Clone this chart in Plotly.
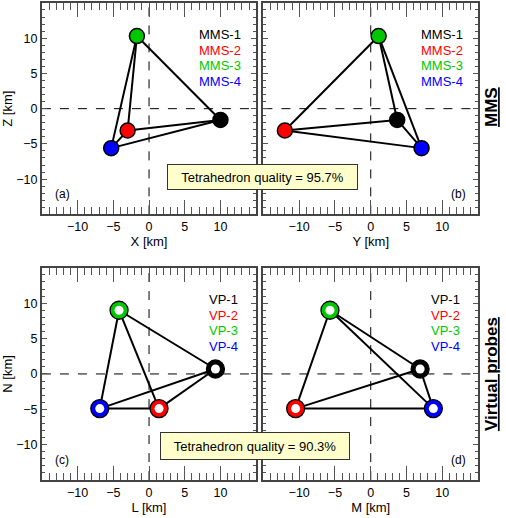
import plotly.graph_objects as go

# probe names and colours
mms_names = ["MMS-1", "MMS-2", "MMS-3", "MMS-4"]
vp_names = ["VP-1", "VP-2", "VP-3", "VP-4"]
colors = ["#000000", "#ff0000", "#00c800", "#0000ff"]

# MMS positions relative to the barycentre [km]
mms_x = [10.0, -3.0, -1.7, -5.3]
mms_y = [3.7, -12.0, 1.1, 7.1]
mms_z = [-1.6, -3.1, 10.3, -5.6]

# virtual probe positions in LMN [km]
vp_l = [9.3, 1.4, -4.2, -6.9]
vp_m = [6.9, -10.5, -5.7, 8.75]
vp_n = [0.7, -4.9, 9.0, -4.9]

quality_mms = 95.7
quality_vp = 90.3

axis_span = [-15, 15]
FONT = "Liberation Sans, Arial, sans-serif"

# h, v, names, virtual?, x title, y title, label
panels = [
    (mms_x, mms_z, mms_names, False, "X [km]", "Z [km]", "(a)"),
    (mms_y, mms_z, mms_names, False, "Y [km]", None, "(b)"),
    (vp_l, vp_n, vp_names, True, "L [km]", "N [km]", "(c)"),
    (vp_m, vp_n, vp_names, True, "M [km]", None, "(d)"),
]

# paper domains of the four panels
x_dom = [[0, 0.491], [0.508, 1], [0, 0.491], [0.508, 1]]
y_dom = [[0.557, 1], [0.557, 1], [0, 0.4447], [0, 0.4447]]

pairs = [(0, 1), (0, 2), (0, 3), (1, 2), (1, 3), (2, 3)]

fig = go.Figure()
annotations = []
axes = {}

for k, (h, v, names, virtual, xt, yt, lab) in enumerate(panels):
    sfx = "" if k == 0 else str(k + 1)
    xa, ya = "x" + sfx, "y" + sfx

    # dashed zero lines
    fig.add_trace(go.Scatter(x=[0, 0], y=axis_span, mode="lines", xaxis=xa, yaxis=ya,
                             line=dict(color="black", width=1, dash="dash"),
                             hoverinfo="skip"))
    fig.add_trace(go.Scatter(x=axis_span, y=[0, 0], mode="lines", xaxis=xa, yaxis=ya,
                             line=dict(color="black", width=1, dash="dash"),
                             hoverinfo="skip"))

    # tetrahedron edges
    ex, ey = [], []
    for i, j in pairs:
        ex += [h[i], h[j], None]
        ey += [v[i], v[j], None]
    fig.add_trace(go.Scatter(x=ex, y=ey, mode="lines", xaxis=xa, yaxis=ya,
                             line=dict(color="black", width=2), hoverinfo="skip"))

    if virtual:
        fig.add_trace(go.Scatter(x=h, y=v, mode="markers", xaxis=xa, yaxis=ya,
                                 marker=dict(size=18, color=colors,
                                             line=dict(color="black", width=1.3))))
        fig.add_trace(go.Scatter(x=h, y=v, mode="markers", xaxis=xa, yaxis=ya,
                                 marker=dict(size=9, color="white")))
    else:
        fig.add_trace(go.Scatter(x=h, y=v, mode="markers", xaxis=xa, yaxis=ya,
                                 marker=dict(size=15, color=colors,
                                             line=dict(color="black", width=1.5))))

    # text legend
    leg_y = [10.5, 8.3, 6.1, 3.9]
    leg_x = 12.7 if virtual else 13.2
    for i, nm in enumerate(names):
        annotations.append(dict(x=leg_x, y=leg_y[i], xref=xa, yref=ya, text=nm,
                                showarrow=False, xanchor="right", yanchor="middle",
                                font=dict(color=colors[i], size=13)))

    # panel letter
    if k % 2 == 0:
        annotations.append(dict(x=-13.5, y=-12.1, xref=xa, yref=ya, text=lab,
                                showarrow=False, xanchor="left", yanchor="middle",
                                font=dict(size=12)))
    else:
        annotations.append(dict(x=13.6, y=-12.1, xref=xa, yref=ya, text=lab,
                                showarrow=False, xanchor="right", yanchor="middle",
                                font=dict(size=12)))

    axes["xaxis" + sfx] = dict(domain=x_dom[k], anchor=ya,
                               title=dict(text=xt, font=dict(size=13), standoff=0))
    yax = dict(domain=y_dom[k], anchor=xa)
    if yt:
        yax["title"] = dict(text=yt, font=dict(size=13), standoff=4)
    else:
        yax["showticklabels"] = False
    axes["yaxis" + sfx] = yax

# tetrahedron quality boxes
annotations.append(dict(x=0.5057, y=0.6357, xref="paper", yref="paper",
                        xanchor="center", yanchor="middle",
                        text="Tetrahedron quality = %.1f%%" % quality_mms,
                        showarrow=False, width=187, height=22, bgcolor="#ffffcc",
                        bordercolor="#333", borderwidth=1, font=dict(size=13)))
annotations.append(dict(x=0.4885, y=0.071, xref="paper", yref="paper",
                        xanchor="center", yanchor="middle",
                        text="Tetrahedron quality = %.1f%%" % quality_vp,
                        showarrow=False, width=186, height=24, bgcolor="#ffffcc",
                        bordercolor="#333", borderwidth=1, font=dict(size=13)))

# row labels on the right
annotations.append(dict(x=1.031, y=0.781, xref="paper", yref="paper",
                        xanchor="center", yanchor="middle",
                        text="<u><b>MMS</b></u>", textangle=-90, showarrow=False,
                        font=dict(size=17)))
annotations.append(dict(x=1.031, y=0.221, xref="paper", yref="paper",
                        xanchor="center", yanchor="middle",
                        text="<u><b>Virtual probes</b></u>", textangle=-90, showarrow=False,
                        font=dict(size=17)))

fig.update_layout(width=506, height=518, showlegend=False,
                  margin=dict(l=42, r=28, t=1, b=38),
                  paper_bgcolor="white", plot_bgcolor="white",
                  font=dict(family=FONT, color="black", size=13),
                  annotations=annotations, **axes)

# shared frame and tick styling
fig.update_xaxes(range=[-14.99, 14.99], showline=True, linewidth=2, linecolor="#444",
                 mirror="allticks", ticks="inside", ticklen=14, tickcolor="#555",
                 tick0=0, dtick=5, showgrid=False, zeroline=False, tickfont=dict(size=12.5),
                 minor=dict(ticks="inside", ticklen=7, tick0=0, dtick=1, tickcolor="#555"))
fig.update_yaxes(range=[-14.99, 14.99], showline=True, linewidth=2, linecolor="#444",
                 mirror="allticks", ticks="inside", ticklen=5, tickcolor="#555",
                 tick0=0, dtick=5, showgrid=False, zeroline=False, tickfont=dict(size=12.5),
                 minor=dict(ticks="inside", ticklen=3, tick0=0, dtick=1, tickcolor="#555"))

# page body has a default margin; drop it so the figure sits at the corner
fig.write_html("out.html", config={"displayModeBar": False},
               post_script="document.body.style.margin='0';")
